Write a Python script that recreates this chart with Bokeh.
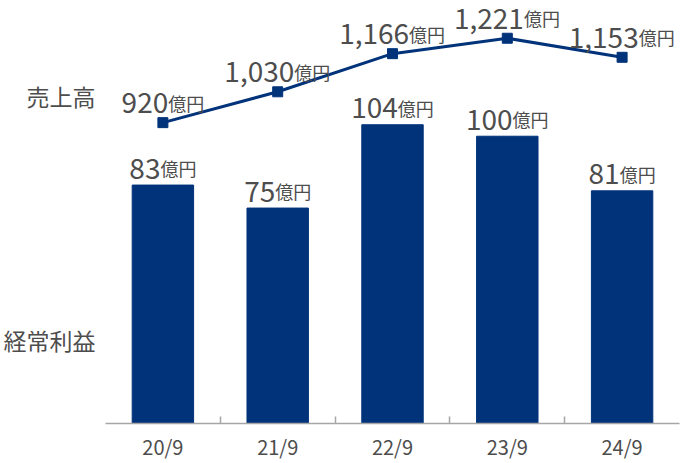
from bokeh.plotting import figure
from bokeh.models import ColumnDataSource, Range1d, FixedTicker, LinearAxis
from bokeh.core.properties import value
from bokeh.embed import file_html
from bokeh.resources import INLINE

# ---- data ----
periods = ["20/9", "21/9", "22/9", "23/9", "24/9"]
sales = [920, 1030, 1166, 1221, 1153]          # 売上高 (億円)
profit = [83, 75, 104, 100, 81]                 # 経常利益 (億円)
unit = "億円"
series_names = ["売上高", "経常利益"]

NAVY = "#00337a"
GRAY_TXT = "#4d4d4d"
FONT = "Noto Sans CJK JP"
NUM_FS = 28
UNIT_FS = 18


def num_width(s, fs=NUM_FS):
    w = 0.0
    for ch in s:
        w += 0.25 * fs if ch == "," else 0.555 * fs
    return w


def split_offset(s):
    return (num_width(s) - 2 * UNIT_FS) / 2.0


idx = list(range(len(periods)))
sales_txt = [f"{v:,}" for v in sales]
profit_txt = [f"{v}" for v in profit]

src = ColumnDataSource(dict(
    x=idx, sales=sales, profit=profit,
    sales_txt=sales_txt, profit_txt=profit_txt,
    unit=[unit] * len(idx),
    s_off=[split_offset(s) for s in sales_txt],
    p_off=[split_offset(s) for s in profit_txt],
))

p = figure(width=696, height=463, output_backend="svg", toolbar_location=None,
           x_range=Range1d(-0.5, 4.5), y_range=Range1d(0, 147.25),
           y_axis_location=None, min_border_left=105, min_border_right=17,
           min_border_top=0, min_border_bottom=37)
p.extra_y_ranges = {"sales": Range1d(-153, 1355.6)}
p.outline_line_color = None
p.xgrid.visible = False
p.ygrid.visible = False
p.background_fill_color = "white"
p.border_fill_color = "white"

# bars (経常利益)
p.vbar(x="x", top="profit", bottom=0, width=0.535, color=NAVY, source=src)

# line (売上高)
p.line(x="x", y="sales", line_color=NAVY, line_width=3, source=src, y_range_name="sales")
p.scatter(x="x", y="sales", marker="square", size=10, color=NAVY, source=src,
          y_range_name="sales")

# value labels: profit
p.text(x="x", y="profit", text="profit_txt", x_offset="p_off", y_offset=-17,
       text_align="right", text_baseline="alphabetic", text_font=value(FONT),
       text_font_size=f"{NUM_FS}px", text_color=GRAY_TXT, source=src)
p.text(x="x", y="profit", text="unit", x_offset="p_off", y_offset=-17,
       text_align="left", text_baseline="alphabetic", text_font=value(FONT),
       text_font_size=f"{UNIT_FS}px", text_color=GRAY_TXT, source=src)

# value labels: sales
p.text(x="x", y="sales", text="sales_txt", x_offset="s_off", y_offset=-20,
       text_align="right", text_baseline="alphabetic", text_font=value(FONT),
       text_font_size=f"{NUM_FS}px", text_color=GRAY_TXT, source=src,
       y_range_name="sales")
p.text(x="x", y="sales", text="unit", x_offset="s_off", y_offset=-20,
       text_align="left", text_baseline="alphabetic", text_font=value(FONT),
       text_font_size=f"{UNIT_FS}px", text_color=GRAY_TXT, source=src,
       y_range_name="sales")

# series names at left, drawn as a label-only left axis
name_ticks = [114, 29]
lax = LinearAxis(ticker=FixedTicker(ticks=name_ticks, minor_ticks=[]),
                 major_label_overrides={t: s for t, s in zip(name_ticks, series_names)})
lax.axis_line_color = None
lax.major_tick_line_color = None
lax.minor_tick_line_color = None
lax.major_label_standoff = 4
lax.major_label_text_font = FONT
lax.major_label_text_font_size = "23px"
lax.major_label_text_color = GRAY_TXT
p.add_layout(lax, "left")

# x axis
ax = p.xaxis[0]
ax.ticker = FixedTicker(ticks=idx, minor_ticks=[i + 0.5 for i in idx[:-1]])
ax.major_label_overrides = {i: s for i, s in zip(idx, periods)}
ax.major_tick_in = 0
ax.major_tick_out = 0
ax.minor_tick_in = 7
ax.minor_tick_out = 0
ax.minor_tick_line_color = "#a6a6a6"
ax.minor_tick_line_width = 1.5
ax.axis_line_color = "#a6a6a6"
ax.axis_line_width = 1.5
ax.major_label_standoff = 8
ax.major_label_text_font = FONT
ax.major_label_text_font_size = "20px"
ax.major_label_text_color = GRAY_TXT

open("out.html", "w").write(file_html(p, INLINE))
